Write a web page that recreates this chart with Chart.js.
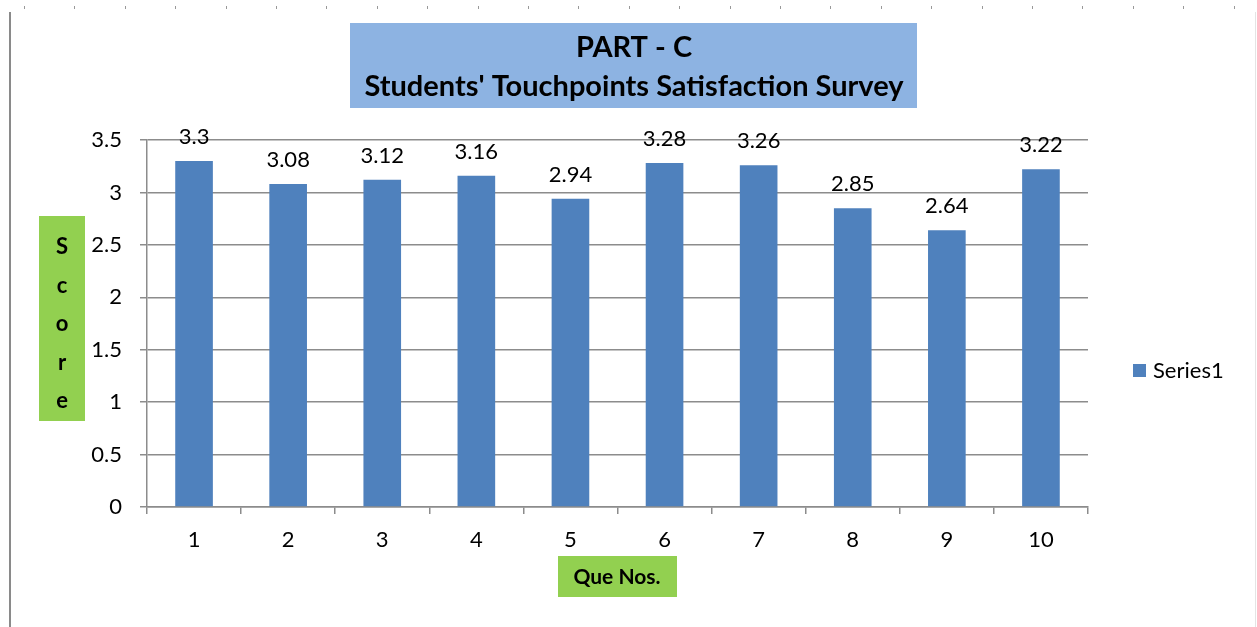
<!DOCTYPE html>
<html>
<head>
<meta charset="utf-8">
<script src="https://cdn.jsdelivr.net/npm/chart.js@4.4.1/dist/chart.umd.min.js"></script>
<style>
  html, body { margin: 0; padding: 0; background: #fff; }
  #wrap { width: 1257px; height: 627px; position: relative; }
</style>
</head>
<body>
<div id="wrap"><canvas id="graph" width="1257" height="627"></canvas></div>
<script>
const questions = ["1", "2", "3", "4", "5", "6", "7", "8", "9", "10"];
const scores = [3.3, 3.08, 3.12, 3.16, 2.94, 3.28, 3.26, 2.85, 2.64, 3.22];
const yTicks = [0, 0.5, 1, 1.5, 2, 2.5, 3, 3.5];
const seriesName = "Series1";

const FONT = "Lato, 'Open Sans', sans-serif";
const barColor = "#4f81bd";
const gridColor = "#8c8c8c";

// frame, title box, axis title boxes, legend, value labels
const decorations = {
    id: "decorations",
    beforeDraw(chart) {
        const ctx = chart.ctx;
        ctx.save();
        ctx.fillStyle = "#fff";
        ctx.fillRect(0, 0, chart.width, chart.height);

        // little marks along the top edge
        ctx.fillStyle = "#999";
        for (let x = 24; x < chart.width; x += 50.4) {
            ctx.fillRect(Math.round(x), 6, 1, 3);
        }
        // left frame line
        ctx.fillStyle = "#8a8a8a";
        ctx.fillRect(9, 12, 2, chart.height - 12);
        ctx.fillStyle = "#e4e4e4";
        ctx.fillRect(1255, 12, 1, chart.height - 12);

        // title box
        ctx.fillStyle = "#8db3e2";
        ctx.fillRect(350, 23, 567, 85);
        ctx.fillStyle = "#000";
        ctx.textAlign = "center";
        ctx.textBaseline = "middle";
        ctx.font = "bold 29px " + FONT;
        ctx.fillText("PART - C", 634, 48);
        ctx.fillText("Students' Touchpoints Satisfaction Survey", 634, 87);

        // y axis title box
        ctx.fillStyle = "#92d050";
        ctx.fillRect(39, 216, 46, 205);
        ctx.fillStyle = "#000";
        ctx.font = "bold 22px " + FONT;
        "Score".split("").forEach((ch, i) => {
            ctx.fillText(ch, 62, 247 + i * 38.5);
        });

        // x axis title box
        ctx.fillStyle = "#92d050";
        ctx.fillRect(558, 556, 119, 41);
        ctx.fillStyle = "#000";
        ctx.font = "bold 21px " + FONT;
        ctx.fillText("Que Nos.", 617, 577);

        // legend
        const ds = chart.data.datasets[0];
        ctx.fillStyle = ds.backgroundColor;
        ctx.fillRect(1133, 364, 13, 13);
        ctx.fillStyle = "#000";
        ctx.textAlign = "left";
        ctx.font = "22px " + FONT;
        ctx.fillText(ds.label, 1153, 371);
        ctx.restore();
    },
    afterDatasetsDraw(chart) {
        const ctx = chart.ctx;
        const meta = chart.getDatasetMeta(0);
        ctx.save();
        ctx.fillStyle = "#000";
        ctx.font = "22px " + FONT;
        ctx.textAlign = "center";
        ctx.textBaseline = "middle";
        meta.data.forEach((bar, i) => {
            ctx.fillText(String(scores[i]), bar.x, bar.y - 24);
        });
        ctx.restore();
    }
};

const chartEl = document.querySelector("#graph").getContext("2d");

const options = {
    type: "bar",
    data: {
        labels: [...questions],
        datasets: [
            {
                label: seriesName,
                data: [...scores],
                backgroundColor: barColor,
                borderWidth: 0,
                categoryPercentage: 1,
                barPercentage: 0.4
            }
        ]
    },
    options: {
        responsive: false,
        animation: false,
        layout: { padding: { top: 140, right: 169, bottom: 0, left: 0 } },
        plugins: {
            legend: { display: false },
            title: { display: false },
            tooltip: { enabled: false }
        },
        scales: {
            x: {
                afterFit: s => { s.height = 120; },
                grid: {
                    offset: true,
                    drawOnChartArea: false,
                    drawTicks: true,
                    tickLength: 7,
                    color: gridColor,
                    lineWidth: 1.5
                },
                border: { display: true, color: gridColor, width: 1.5 },
                ticks: { color: "#000", font: { family: FONT, size: 22 }, padding: 13 }
            },
            y: {
                min: 0,
                max: 3.5,
                afterFit: s => { s.width = 147; },
                afterBuildTicks: s => { s.ticks = yTicks.map(v => ({ value: v })); },
                grid: {
                    color: gridColor,
                    lineWidth: 1.5,
                    tickLength: 7
                },
                border: { display: true, color: gridColor, width: 1.5 },
                ticks: {
                    color: "#000",
                    font: { family: FONT, size: 22 },
                    padding: 18,
                    callback: v => String(v)
                }
            }
        }
    },
    plugins: [decorations]
};

// eslint-disable-next-line no-unused-vars
let chart = new Chart(chartEl, options);
</script>
</body>
</html>
